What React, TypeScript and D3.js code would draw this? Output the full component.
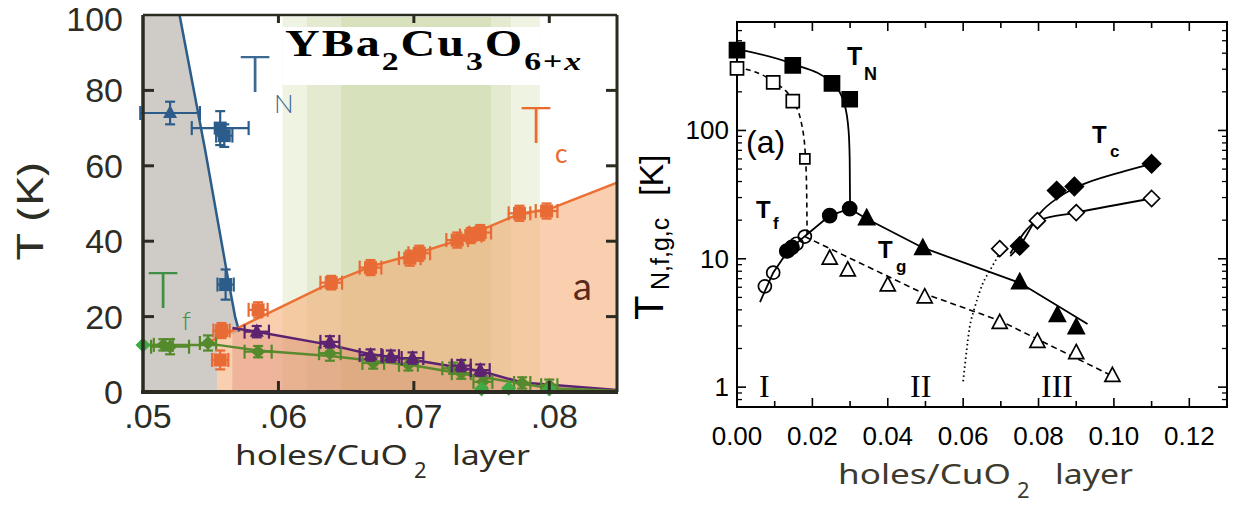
import React from 'react';
import * as d3 from 'd3';

// ================= LEFT PANEL DATA (YBa2Cu3O6+x) =================
const leftXTicks = [0.05, 0.06, 0.07, 0.08];
const leftXTickLabels = ['.05', '.06', '.07', '.08'];
const leftYTicks = [0, 20, 40, 60, 80, 100];
const leftYTickLabels = ['0', '20', '40', '60', '80', '100'];

// points: [x, T, dx, dT]
const tnPoints = [
  [0.052, 74, 0.0022, 3],
  [0.0557, 70, 0.0021, 4.5],
  [0.056, 68, 0.0006, 3],
  [0.0561, 28.5, 0.0006, 4],
];
const tnLine = [[0.0527, 100], [0.0546, 64], [0.0562, 31.6], [0.0568, 20], [0.0571, 16]];

const tcPoints = [
  [0.0557, 8.5, 0.0006, 2.5],
  [0.0558, 16.3, 0.0006, 2],
  [0.0585, 21.8, 0.0007, 2],
  [0.0639, 29, 0.0008, 1.8],
  [0.0668, 33, 0.0008, 2],
  [0.0697, 35.5, 0.0008, 2],
  [0.0704, 36.8, 0.0008, 2],
  [0.0732, 40.3, 0.0008, 2],
  [0.0742, 41.5, 0.0008, 2],
  [0.0749, 42.3, 0.0008, 2],
  [0.0778, 47.4, 0.0008, 2],
  [0.0798, 48, 0.0008, 2],
];
const tcLine = [[0.0549, 13.3], [0.0639, 29], [0.067, 33.5], [0.07, 36.5], [0.0735, 40.5], [0.075, 43], [0.0778, 47.3], [0.08, 48.5], [0.085, 55.5]];

const tgPoints = [
  [0.0584, 16, 0.0009, 1.5],
  [0.0638, 13.3, 0.0007, 1.5],
  [0.0668, 9.8, 0.0008, 1.5],
  [0.0683, 9.5, 0.0006, 1.5],
  [0.0699, 9, 0.0008, 1.5],
  [0.0735, 7, 0.0007, 1.5],
  [0.0749, 5.8, 0.0007, 1.5],
];
const tgLine = [[0.0566, 17], [0.0584, 16], [0.0638, 12.5], [0.0668, 10], [0.07, 8.5], [0.075, 5.5], [0.078, 2.5], [0.085, 0.5]];

const tfPoints = [
  [0.0515, 12.5, 0.0007, 1.5],
  [0.052, 12, 0.0014, 2],
  [0.0548, 13, 0.0006, 2],
  [0.0585, 10.7, 0.001, 1.5],
  [0.0638, 10.3, 0.0008, 2],
  [0.067, 7.7, 0.0008, 1.5],
  [0.0696, 7.2, 0.0007, 1.5],
  [0.0729, 6.3, 0.0008, 1.5],
  [0.0735, 5, 0.0007, 1.5],
  [0.0751, 2.7, 0.0007, 1.5],
  [0.078, 2.4, 0.0006, 1.5],
  [0.08, 1.8, 0.0006, 1.5],
];
const tfBright = [[0.05, 12.5], [0.075, 0.8], [0.077, 1], [0.08, 0.8]];
const tfLine = [[0.05, 12.5], [0.0555, 12.5], [0.0585, 11], [0.064, 9.5], [0.07, 7], [0.075, 4], [0.08, 1], [0.085, 0.3]];

const bandEdges = [0.0603, 0.0621, 0.0646, 0.0757, 0.0772, 0.0793];
const bandColors = ['#eff3e1', '#e3ead0', '#d7e2bd', '#e3ead0', '#eff3e1'];
const scStart = 0.0555;

// ================= RIGHT PANEL DATA =================
const rightXTicks = [0, 0.02, 0.04, 0.06, 0.08, 0.1, 0.12];
const rightXTickLabels = ['0.00', '0.02', '0.04', '0.06', '0.08', '0.10', '0.12'];
const rightYTicks = [1, 10, 100];
const rightYTickLabels = ['1', '10', '100'];

const tnFilledX = [0.0, 0.0148, 0.0252, 0.0299];
const tnFilledV = [422, 322, 233, 175];
const tnOpenX = [0.0, 0.0096, 0.0148, 0.018];
const tnOpenV = [305, 237, 169, 60];
const tfOpenX = [0.0074, 0.0096, 0.0135, 0.0158, 0.018];
const tfOpenV = [6.1, 7.8, 11.5, 13.1, 14.9];
const tfFilledX = [0.0132, 0.0146, 0.0246, 0.0299];
const tfFilledV = [11.5, 12.3, 21.7, 24.6];
const tgFilledX = [0.0344, 0.0493, 0.075, 0.085, 0.09];
const tgFilledV = [20.5, 12, 6.5, 3.6, 2.9];
const tgOpenX = [0.0246, 0.0294, 0.04, 0.0498, 0.0697, 0.0797, 0.09, 0.0996];
const tgOpenV = [10, 8.1, 6.2, 5, 3.16, 2.25, 1.84, 1.22];
const tcFilledX = [0.075, 0.0848, 0.0895, 0.11];
const tcFilledV = [12.6, 34, 36.6, 55];
const tcOpenX = [0.0697, 0.0797, 0.09, 0.11];
const tcOpenV = [12, 19.8, 22.9, 29.5];

const rTnLine = [[0, 430], [0.0148, 330], [0.0252, 235], [0.0285, 160], [0.0296, 100], [0.0299, 60], [0.03, 24.6]];
const rTnOpenLine = [[0, 310], [0.0096, 240], [0.0148, 170], [0.0172, 110], [0.0182, 60], [0.0185, 30], [0.0186, 15]];
const rTfgLine = [[0.0061, 4.6], [0.0096, 7.8], [0.0135, 11.5], [0.018, 15], [0.0246, 21.7], [0.0299, 24.6], [0.0344, 20.5], [0.0493, 12.2], [0.075, 6.5], [0.093, 3.1]];
const rTgOpenLine = [[0.018, 14.9], [0.0493, 5.4], [0.0697, 3.3], [0.0996, 1.22]];
const rTcFilledLine = [[0.0725, 10.5], [0.075, 12.6], [0.0803, 22.5], [0.0856, 30.5], [0.0909, 37], [0.1015, 47], [0.11, 55]];
const rTcOpenLine = [[0.0725, 11], [0.0797, 19.8], [0.09, 22.9], [0.11, 29.5]];
const rDotted = [[0.06, 1.11], [0.0609, 1.91], [0.0617, 2.9], [0.063, 4.1], [0.0652, 6.4], [0.0675, 8.5], [0.0697, 11.1]];

// ================= SCALES =================
const lx = d3.scaleLinear().domain([0.05, 0.085]).range([143, 617]);
const ly = d3.scaleLinear().domain([0, 100]).range([392, 15]);
const rx = d3.scaleLinear().domain([0, 0.13]).range([737, 1227]);
const ry = d3.scaleLog().domain([0.7, 700]).range([407, 22]);

const lLine = d3.line<number[]>().x(d => lx(d[0])).y(d => ly(d[1]));
const lArea = d3.area<number[]>().x(d => lx(d[0])).y0(ly(0)).y1(d => ly(d[1]));
const rLineLin = d3.line<number[]>().x(d => rx(d[0])).y(d => ry(d[1]));
const rLineSmooth = d3.line<number[]>().x(d => rx(d[0])).y(d => ry(d[1])).curve(d3.curveMonotoneX);

const sq = (cx: number, cy: number, s: number) => `M${cx - s / 2},${cy - s / 2}h${s}v${s}h${-s}Z`;
const tri = (cx: number, cy: number, s: number) => `M${cx},${cy - s * 0.58}L${cx + s / 2},${cy + s * 0.36}L${cx - s / 2},${cy + s * 0.36}Z`;
const dia = (cx: number, cy: number, s: number) => `M${cx},${cy - s / 2}L${cx + s / 2},${cy}L${cx},${cy + s / 2}L${cx - s / 2},${cy}Z`;

const ErrPts = ({ pts, color, shape, size }: { pts: number[][]; color: string; shape: (a: number, b: number, c: number) => string; size: number }) => (
  <g stroke={color} fill={color}>
    {pts.map((p, i) => {
      const cx = lx(p[0]), cy = ly(p[1]);
      const x0 = lx(p[0] - p[2]), x1 = lx(p[0] + p[2]);
      const y0 = ly(p[1] - p[3]), y1 = ly(p[1] + p[3]);
      return (
        <g key={i}>
          <line x1={x0} x2={x1} y1={cy} y2={cy} strokeWidth={2.2} />
          <line x1={x0} x2={x0} y1={cy - 7} y2={cy + 7} strokeWidth={2.2} />
          <line x1={x1} x2={x1} y1={cy - 7} y2={cy + 7} strokeWidth={2.2} />
          <line x1={cx} x2={cx} y1={y0} y2={y1} strokeWidth={2.2} />
          <line x1={cx - 5} x2={cx + 5} y1={y0} y2={y0} strokeWidth={2.2} />
          <line x1={cx - 5} x2={cx + 5} y1={y1} y2={y1} strokeWidth={2.2} />
          <path d={shape(cx, cy, size)} stroke="none" />
        </g>
      );
    })}
  </g>
);

const LeftPanel = () => {
  const axisCol = '#2c2b22';
  const txt = '#2e2d25';
  const grayPoly =
    `M${lx(0.05)},${ly(0)}L${lx(0.05)},${ly(100)}` +
    tnLine.map(d => `L${lx(d[0])},${ly(d[1])}`).join('') +
    `L${lx(scStart)},${ly(14)}L${lx(scStart)},${ly(0)}Z`;
  const font = "'Noto Sans', 'DejaVu Sans', sans-serif";
  const tickFont = "'Liberation Sans', Arial, sans-serif";
  return (
    <g>
      <defs>
        <clipPath id="lclip">
          <rect x={lx(0.05)} y={ly(100)} width={lx(0.085) - lx(0.05)} height={ly(0) - ly(100)} />
        </clipPath>
        <clipPath id="scclip">
          <rect x={lx(scStart)} y={ly(100)} width={lx(0.085) - lx(scStart)} height={ly(0) - ly(100)} />
        </clipPath>
      </defs>
      <g clipPath="url(#lclip)">
        <path d={grayPoly} fill="#cfcbc6" />
        {bandColors.map((c, i) => (
          <rect key={i} x={lx(bandEdges[i])} width={lx(bandEdges[i + 1]) - lx(bandEdges[i])} y={17} height={ly(0) - 17} fill={c} />
        ))}
        <rect x={lx(bandEdges[0])} y={27} width={lx(bandEdges[5]) - lx(bandEdges[0])} height={58} fill="#ffffff" />
        <g clipPath="url(#scclip)">
          <path d={lArea(tcLine) || ''} fill="#f6a86f" fillOpacity={0.55} />
          <path d={lArea(tgLine) || ''} fill="#c0504d" fillOpacity={0.2} />
        </g>
        <path d={lLine(tnLine) || ''} fill="none" stroke="#2c5d8a" strokeWidth={2.5} />
        <path d={lLine(tcLine) || ''} fill="none" stroke="#ec6f33" strokeWidth={2.5} />
        <path d={lLine(tgLine) || ''} fill="none" stroke="#5b2370" strokeWidth={2.5} />
        <path d={lLine(tfLine) || ''} fill="none" stroke="#5b8a2e" strokeWidth={2.5} />
      </g>
      <ErrPts pts={tnPoints.slice(0, 1)} color="#2c5d8a" shape={tri} size={14} />
      <ErrPts pts={tnPoints.slice(1)} color="#2c5d8a" shape={sq} size={13} />
      <ErrPts pts={tfPoints} color="#558a2c" shape={dia} size={14} />
      <ErrPts pts={tgPoints} color="#5b2370" shape={tri} size={14} />
      <ErrPts pts={tcPoints} color="#e86a35" shape={sq} size={13} />
      {tfBright.map((p, i) => (
        <path key={i} d={dia(lx(p[0]), ly(p[1]), 15)} fill="#3daa45" />
      ))}

      {/* title */}
      <g transform="translate(285,56) scale(1.3,1)" fontFamily="'Liberation Serif', 'Times New Roman', serif" fontWeight="bold" fill="#000" letterSpacing={1.5}>
        <text fontSize={37}>
          YBa<tspan fontSize={26} dy={14}>2</tspan>
          <tspan dy={-14}>Cu</tspan>
          <tspan fontSize={26} dy={14}>3</tspan>
          <tspan dy={-14}>O</tspan>
          <tspan fontSize={26} dy={14}>6+</tspan>
          <tspan fontSize={26} fontStyle="italic">x</tspan>
        </text>
      </g>

      {/* series labels */}
      <g fontFamily="Lato, 'Noto Sans', sans-serif" fontWeight={300}>
        <text x={240} y={92} fontSize={52} fill="#3d6a92">T</text>
        <text x={274} y={113} fontSize={26} fill="#3d6a92">N</text>
        <text x={521} y={143} fontSize={52} fill="#ea6a30">T</text>
        <text x={555} y={163} fontSize={26} fontWeight={400} fill="#ea6a30">c</text>
        <text x={148} y={308} fontSize={52} fill="#3f9045">T</text>
        <text x={182} y={330} fontSize={26} fill="#3f9045">f</text>
        <text x={573} y={300} fontSize={38} fontWeight={400} fill="#5a2a1a">a</text>
      </g>

      {/* frame */}
      <line x1={lx(0.05)} x2={lx(0.085)} y1={ly(100)} y2={ly(100)} stroke={axisCol} strokeWidth={2.5} />
      <line x1={lx(0.085)} x2={lx(0.085)} y1={ly(100)} y2={ly(0)} stroke={axisCol} strokeWidth={3} />
      <line x1={lx(0.05)} x2={lx(0.05)} y1={ly(100)} y2={ly(0) + 2} stroke={axisCol} strokeWidth={3.5} />
      <line x1={lx(0.05) - 2} x2={lx(0.085) + 1} y1={ly(0)} y2={ly(0)} stroke={axisCol} strokeWidth={4} />
      {leftYTicks.filter(t => t > 0 && t < 100).map(t => (
        <g key={t}>
          <line x1={lx(0.05)} x2={lx(0.05) + 11} y1={ly(t)} y2={ly(t)} stroke={axisCol} strokeWidth={3} />
          <line x1={lx(0.085) - 11} x2={lx(0.085)} y1={ly(t)} y2={ly(t)} stroke={axisCol} strokeWidth={3} />
        </g>
      ))}
      {leftXTicks.filter(t => t > 0.05).map(t => (
        <g key={t}>
          <line x1={lx(t)} x2={lx(t)} y1={ly(0)} y2={ly(0) - 11} stroke={axisCol} strokeWidth={3} />
          <line x1={lx(t)} x2={lx(t)} y1={ly(100)} y2={ly(100) + 8} stroke={axisCol} strokeWidth={3} />
        </g>
      ))}
      <g fontFamily={tickFont} fill={txt} fontSize={34}>
        {leftYTicks.map((t, i) => (
          <text key={t} x={123} y={Math.max(ly(t) + 12, 31)} textAnchor="end">{leftYTickLabels[i]}</text>
        ))}
        {leftXTicks.map((t, i) => (
          <text key={t} x={lx(t) + 5} y={428} textAnchor="middle">{leftXTickLabels[i]}</text>
        ))}
      </g>
      <g fontFamily={font} fill={txt}>
        <text x={235} y={465} fontSize={27} textLength={173} lengthAdjust="spacingAndGlyphs">holes/CuO</text>
        <text x={414} y={478} fontSize={22}>2</text>
        <text x={452} y={465} fontSize={27} textLength={78} lengthAdjust="spacingAndGlyphs">layer</text>
        <text transform="translate(43,0) rotate(-90)" x={-260} y={0} fontSize={37} textLength={97} lengthAdjust="spacingAndGlyphs">T (K)</text>
      </g>
    </g>
  );
};

const RightPanel = () => {
  const font = "'Liberation Sans', Arial, Helvetica, sans-serif";
  const minorX = d3.range(0, 0.1301, 0.01);
  const minorY: number[] = [];
  [0.1, 1, 10, 100].forEach(dec => {
    for (let k = 2; k <= 9; k++) {
      const v = dec * k;
      if (v >= 0.7 && v <= 700 && ![1, 10, 100].includes(v)) minorY.push(v);
    }
  });
  const x0 = rx(0), x1 = rx(0.13), y0 = ry(0.7), y1 = ry(700);
  return (
    <g>
      <defs>
        <clipPath id="rclip">
          <rect x={x0} y={y1} width={x1 - x0} height={y0 - y1} />
        </clipPath>
      </defs>
      {/* frame and ticks */}
      <rect x={x0} y={y1} width={x1 - x0} height={y0 - y1} fill="none" stroke="#000" strokeWidth={2} />
      {minorX.map((t, i) => {
        const major = i % 2 === 0;
        const L = major ? 9 : 6;
        return (
          <g key={i} stroke="#000" strokeWidth={1.6}>
            <line x1={rx(t)} x2={rx(t)} y1={y0} y2={y0 - L} />
            <line x1={rx(t)} x2={rx(t)} y1={y1} y2={y1 + L} />
          </g>
        );
      })}
      {rightYTicks.map(t => (
        <g key={t} stroke="#000" strokeWidth={1.6}>
          <line x1={x0} x2={x0 + 9} y1={ry(t)} y2={ry(t)} />
          <line x1={x1} x2={x1 - 9} y1={ry(t)} y2={ry(t)} />
        </g>
      ))}
      {minorY.map((t, i) => (
        <g key={i} stroke="#000" strokeWidth={1.3}>
          <line x1={x0} x2={x0 + 5} y1={ry(t)} y2={ry(t)} />
          <line x1={x1} x2={x1 - 5} y1={ry(t)} y2={ry(t)} />
        </g>
      ))}
      <g fontFamily={font} fontSize={26} fill="#000">
        {rightXTicks.map((t, i) => (
          <text key={t} x={rx(t)} y={445} textAnchor="middle">{rightXTickLabels[i]}</text>
        ))}
        {rightYTicks.map((t, i) => (
          <text key={t} x={729} y={ry(t) + 9} textAnchor="end">{rightYTickLabels[i]}</text>
        ))}
      </g>

      {/* lines */}
      <g clipPath="url(#rclip)" fill="none" stroke="#000">
        <path d={rLineSmooth(rTnLine) || ''} strokeWidth={1.8} />
        <path d={rLineSmooth(rTnOpenLine) || ''} strokeWidth={1.6} strokeDasharray="5,4" />
        <path d={rLineLin(rTfgLine) || ''} strokeWidth={1.8} />
        <path d={rLineLin(rTgOpenLine) || ''} strokeWidth={1.6} strokeDasharray="6,4" />
        <path d={rLineSmooth(rTcFilledLine) || ''} strokeWidth={1.8} />
        <path d={rLineSmooth(rTcOpenLine) || ''} strokeWidth={1.8} />
        <path d={rLineSmooth(rDotted) || ''} strokeWidth={1.8} strokeDasharray="1.5,3" />
      </g>

      {/* markers */}
      <g stroke="#000" strokeWidth={1.7}>
        {tnOpenX.map((x, i) => (
          <path key={'to' + i} d={sq(rx(x), ry(tnOpenV[i]), i === 3 ? 10 : 13)} fill="#fff" />
        ))}
        {tnFilledX.map((x, i) => (
          <path key={'tf' + i} d={sq(rx(x), ry(tnFilledV[i]), 15)} fill="#000" />
        ))}
        {tfOpenX.map((x, i) => (
          <circle key={'co' + i} cx={rx(x)} cy={ry(tfOpenV[i])} r={6.5} fill="none" />
        ))}
        {tfFilledX.map((x, i) => (
          <circle key={'cf' + i} cx={rx(x)} cy={ry(tfFilledV[i])} r={7} fill="#000" />
        ))}
        {tgOpenX.map((x, i) => (
          <path key={'go' + i} d={tri(rx(x), ry(tgOpenV[i]), 15)} fill="#fff" />
        ))}
        {tgFilledX.map((x, i) => (
          <path key={'gf' + i} d={tri(rx(x), ry(tgFilledV[i]), 16)} fill="#000" />
        ))}
        {tcOpenX.map((x, i) => (
          <path key={'do' + i} d={dia(rx(x), ry(tcOpenV[i]), 16)} fill="#fff" />
        ))}
        {tcFilledX.map((x, i) => (
          <path key={'df' + i} d={dia(rx(x), ry(tcFilledV[i]), 18)} fill="#000" />
        ))}
      </g>

      {/* labels */}
      <g fontFamily={font} fontWeight="bold" fill="#000">
        <text x={847} y={65} fontSize={25}>T</text>
        <text x={864} y={80} fontSize={18}>N</text>
        <text x={756} y={218} fontSize={24}>T</text>
        <text x={773} y={229} fontSize={17}>f</text>
        <text x={878} y={258} fontSize={24}>T</text>
        <text x={896} y={272} fontSize={17}>g</text>
        <text x={1092} y={143} fontSize={24}>T</text>
        <text x={1110} y={157} fontSize={17}>c</text>
      </g>
      <text x={746} y={153} fontFamily={font} fontSize={32} fill="#000">(a)</text>
      <g fontFamily="'Liberation Serif', 'Times New Roman', serif" fontSize={32} fill="#000">
        <text x={759} y={397}>I</text>
        <text x={910} y={397}>II</text>
        <text x={1041} y={397}>III</text>
      </g>
      <g transform="translate(663,0) rotate(-90)" fontFamily={font} fill="#000">
        <text x={-320} y={0} fontSize={40}>T</text>
        <text x={-290} y={6} fontSize={25}>N,f,g,c</text>
        <text x={-196} y={0} fontSize={34}>[K]</text>
      </g>
      <g fontFamily="'Noto Sans', 'DejaVu Sans', sans-serif" fill="#3d3a2e">
        <text x={838} y={484} fontSize={28} textLength={173} lengthAdjust="spacingAndGlyphs">holes/CuO</text>
        <text x={1017} y={498} fontSize={22}>2</text>
        <text x={1055} y={484} fontSize={28} textLength={78} lengthAdjust="spacingAndGlyphs">layer</text>
      </g>
    </g>
  );
};

export default function App() {
  return (
    <svg width={1235} height={506} viewBox="0 0 1235 506" style={{ position: 'absolute', left: 0, top: 0, background: '#fff' }}>
      <rect width={1235} height={506} fill="#fff" />
      <LeftPanel />
      <RightPanel />
    </svg>
  );
}
